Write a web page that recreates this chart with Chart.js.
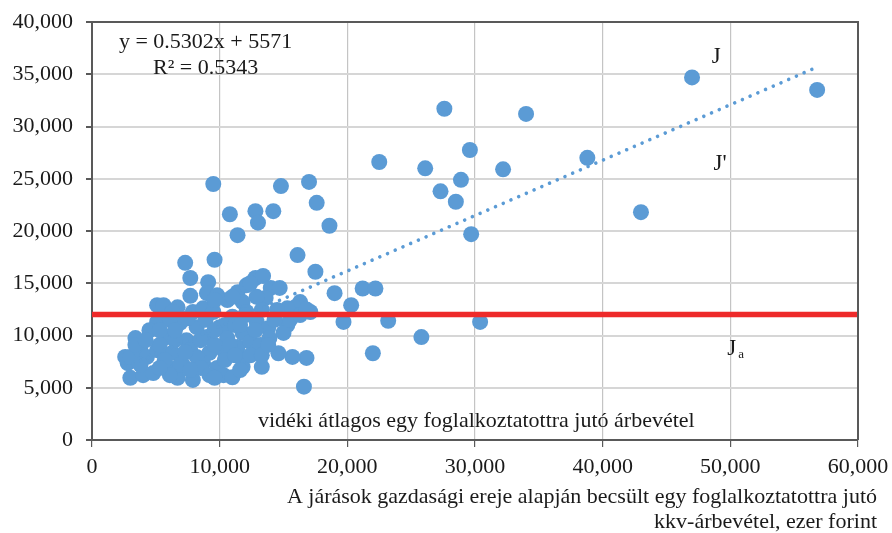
<!DOCTYPE html>
<html>
<head>
<meta charset="utf-8">
<script src="https://cdn.jsdelivr.net/npm/chart.js@4/dist/chart.umd.min.js"></script>
<style>
  html, body { margin: 0; padding: 0; background: #fff; }
  #wrap { width: 892px; height: 533px; }
</style>
</head>
<body>
<div id="wrap"><canvas id="grafico" width="892" height="533"></canvas></div>
<script>
// járások: becsült kkv-árbevétel (x) és tényleges árbevétel (y), ezer forint
var pontX = [
  9500, 10800, 12800, 14200, 14800, 17000, 17600, 13000, 11400, 18600,
  16100, 17500, 7300, 9600, 7700, 9100, 19000, 19700, 20300, 21200,
  22200, 23200, 22000, 25800, 30400, 22500, 26100, 27600, 29600, 32200,
  28900, 27300, 28500, 29700, 34000, 38800, 47000, 56800, 43000, 16600,
  13300, 16800, 15700, 14600,
  7700, 9000, 9800, 10600, 11400, 12100, 12800, 13400, 14000, 14700,
  13600, 12900, 11800, 12400, 16300, 15900, 17100, 15300, 14500, 5100,
  5600, 6700, 7900, 8700, 9500, 9600, 11000,
  5100, 4500, 6900, 8200, 10000, 11000, 12100, 12900, 13800, 15300,
  15000, 13900, 10400, 12000, 5900, 7400, 9000, 10600, 11800, 3400,
  6100, 7500, 8900, 11200, 13300, 6300,
  2800, 2600, 3000, 3800, 4300, 5100, 6300, 7700, 9200, 10300,
  11400, 12400, 3000, 4000, 4800, 5900, 6700, 7900, 7100, 8700,
  9800, 10300, 11000, 11800, 8200, 5300, 6500, 8500, 9600, 5700,
  6900, 10400, 11600, 12800, 13200,
  3400, 4200, 5300, 6500, 7300, 8500, 9200, 7700, 6100, 5300,
  3800, 10800, 12400, 13300, 13800, 14300, 15500, 16300, 12800, 11600,
  9600, 11200, 9600, 11600, 16800
];
var pontY = [
  24500, 21600, 21900, 21900, 24300, 24700, 22700, 20800, 19600, 20500,
  17700, 16100, 16950, 17250, 15500, 15100, 14050, 11300, 12900, 14500,
  14500, 11400, 8300, 9850, 11300, 26600, 26000, 31700, 27750, 25900,
  24900, 23800, 22800, 19700, 31200, 27000, 34700, 33500, 21800, 5100,
  7000, 7850, 7950, 8300,
  13800, 14050, 13850, 13400, 14150, 14800, 15500, 15700, 14550, 14550,
  13600, 13700, 13200, 15000, 13200, 12700, 12250, 12600, 12450, 12900,
  12900, 12700, 12250, 12600, 12250, 13400, 13700,
  11300, 10500, 11200, 10800, 10800, 11800, 12250, 11300, 10700, 11000,
  10250, 9750, 11000, 11950, 9850, 9550, 9850, 9750, 10250, 9750,
  11500, 11650, 11500, 11000, 12450, 12250,
  7350, 7950, 7950, 8600, 7950, 8600, 8350, 8600, 8350, 8600,
  8900, 9400, 5950, 6200, 6400, 7000, 5950, 5750, 7200, 7350,
  6900, 6200, 6000, 7000, 7950, 9100, 9550, 9550, 9100, 7650,
  7200, 7650, 7950, 8400, 9100,
  9100, 9550, 10500, 10500, 8400, 6900, 6200, 6700, 6200, 6900,
  7200, 9100, 8100, 8100, 9100, 11500, 11500, 11950, 10500, 11000,
  10500, 8100, 5950, 6700, 12500
];

// trendvonal végpontjai (leolvasva)
var trendX = [2600, 56600];
var trendY = [6950, 35580];

// vidéki átlag
var atlagX = [0, 60000];
var atlagY = [12000, 12000];

var xTicks = [0, 10000, 20000, 30000, 40000, 50000, 60000];
var yTicks = [0, 5000, 10000, 15000, 20000, 25000, 30000, 35000, 40000];

var betu = "'Liberation Serif', 'Times New Roman', serif";
var kek = '#5b9bd5';

function parok(xs, ys) {
  return xs.map(function (x, i) { return { x: x, y: ys[i] }; });
}

// keret + feliratok
var feliratok = {
  id: 'feliratok',
  afterDraw: function (chart) {
    var ctx = chart.ctx;
    var a = chart.chartArea;
    var sx = chart.scales.x, sy = chart.scales.y;
    ctx.save();
    ctx.strokeStyle = '#595959';
    ctx.lineWidth = 2;
    ctx.beginPath();
    ctx.moveTo(a.left, a.top);
    ctx.lineTo(a.right, a.top);
    ctx.lineTo(a.right, a.bottom);
    ctx.stroke();

    ctx.fillStyle = '#1a1a1a';
    ctx.font = '22px ' + betu;
    ctx.textAlign = 'center';
    ctx.textBaseline = 'middle';
    ctx.fillText('y = 0.5302x + 5571', sx.getPixelForValue(8900), sy.getPixelForValue(38100));
    ctx.fillText('R² = 0.5343', sx.getPixelForValue(8900), sy.getPixelForValue(35600));
    ctx.fillText('vidéki átlagos egy foglalkoztatottra jutó árbevétel', sx.getPixelForValue(30100), sy.getPixelForValue(1800));

    ctx.font = '23px ' + betu;
    ctx.fillText('J', sx.getPixelForValue(48900), sy.getPixelForValue(36700));
    ctx.fillText("J'", sx.getPixelForValue(49200), sy.getPixelForValue(26400));
    ctx.fillText('J', sx.getPixelForValue(50100), sy.getPixelForValue(8700));
    ctx.font = '13px ' + betu;
    ctx.fillText('a', sx.getPixelForValue(50850), sy.getPixelForValue(8200));

    ctx.font = '22px ' + betu;
    ctx.textAlign = 'right';
    ctx.fillText('A járások gazdasági ereje alapján becsült egy foglalkoztatottra jutó', 877, 497);
    ctx.fillText('kkv-árbevétel, ezer forint', 877, 522);
    ctx.restore();
  }
};

new Chart(document.getElementById('grafico'), {
  type: 'scatter',
  data: {
    datasets: [{
      label: 'vidéki átlag',
      data: parok(atlagX, atlagY),
      showLine: true,
      borderColor: '#ee2a2a',
      borderWidth: 5.5,
      pointRadius: 0
    }, {
      label: 'trend',
      data: parok(trendX, trendY),
      showLine: true,
      borderColor: kek,
      borderWidth: 3.6,
      borderDash: [0.01, 8.4],
      borderCapStyle: 'round',
      pointRadius: 0
    }, {
      label: 'járások',
      data: parok(pontX, pontY),
      backgroundColor: kek,
      borderColor: kek,
      borderWidth: 0,
      pointRadius: 8,
      pointHoverRadius: 8
    }]
  },
  options: {
    responsive: false,
    animation: false,
    layout: { padding: { left: 0, right: 34, top: 22, bottom: 0 } },
    plugins: { legend: { display: false }, tooltip: { enabled: false } },
    scales: {
      x: {
        type: 'linear',
        min: 0, max: 60000,
        afterBuildTicks: function (s) { s.ticks = xTicks.map(function (v) { return { value: v }; }); },
        afterFit: function (s) { s.height = 93; s.paddingLeft = 0; s.paddingRight = 0; },
        ticks: {
          color: '#1a1a1a', padding: 7,
          font: { family: betu, size: 22 },
          callback: function (v) { return v.toLocaleString('en-US'); }
        },
        grid: { color: '#c4c4c4', lineWidth: 1.2, tickLength: 7, tickColor: '#595959' },
        border: { color: '#595959', width: 2 }
      },
      y: {
        type: 'linear',
        min: 0, max: 40000,
        afterBuildTicks: function (s) { s.ticks = yTicks.map(function (v) { return { value: v }; }); },
        afterFit: function (s) { s.width = 92; s.paddingTop = 0; s.paddingBottom = 0; },
        ticks: {
          color: '#1a1a1a', padding: 13,
          font: { family: betu, size: 22 },
          callback: function (v) { return v.toLocaleString('en-US'); }
        },
        grid: { color: '#d6d6d6', lineWidth: 2, tickLength: 6, tickColor: '#595959' },
        border: { color: '#595959', width: 2 }
      }
    }
  },
  plugins: [feliratok]
});
</script>
</body>
</html>
